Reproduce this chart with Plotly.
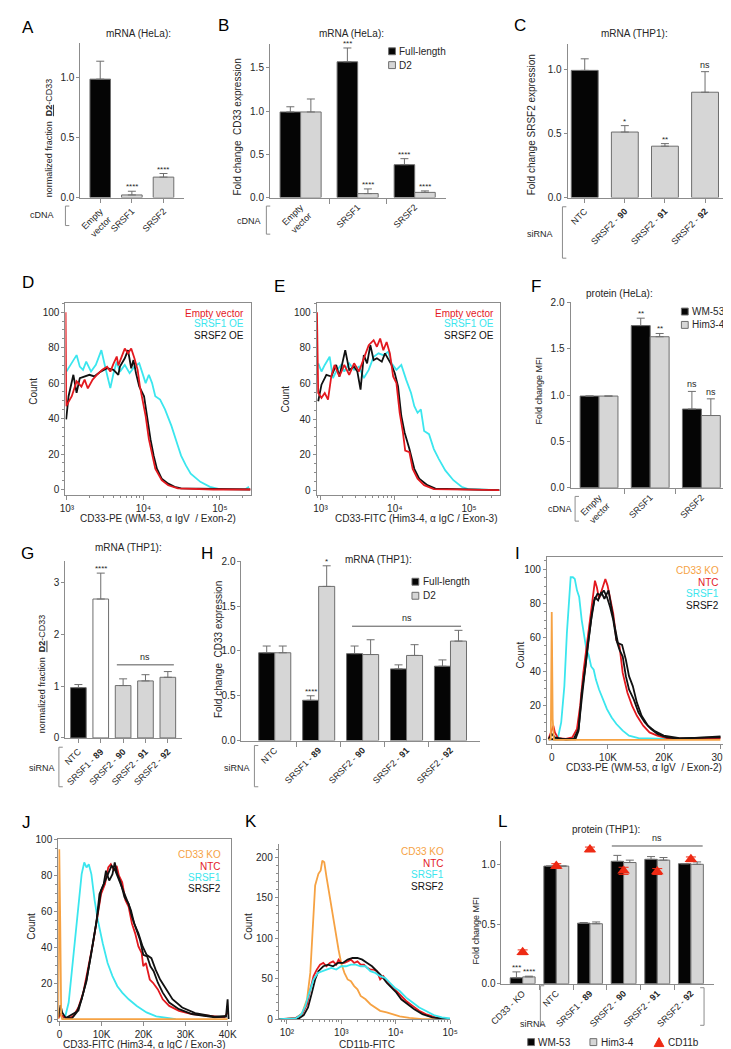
import plotly.graph_objects as go

W, H = 731, 1049
FONT = "Liberation Sans, Arial, Helvetica, sans-serif"
TXT = "#262626"
AX = "#8c8c8c"
EDGE = "#6e6e6e"
ERRC = "#6e6e6e"
BLACKF = "#050505"
GREYF = "#d6d6d6"
WHITEF = "#ffffff"
RED = "#e3191f"
CYAN = "#3be6ee"
ORANGE = "#f6a243"
DARK = "#111111"


def bnum(t):
    return f"<span style='font-weight:bold;font-size:9px'>{t}</span>"


# ======================= DATA =======================
# A  mRNA (HeLa) normalized fraction D2-CD33
a_cats = ["Empty<br>vector", "SRSF1", "SRSF2"]
a_vals = [0.99, 0.022, 0.171]
a_sem = [0.15, 0.031, 0.03]
a_sig = ["", "****", "****"]

# B  mRNA (HeLa) fold change CD33 expression
b_cats = ["Empty<br>vector", "SRSF1", "SRSF2"]
b_full = [0.99, 1.57, 0.38]
b_full_sem = [0.06, 0.16, 0.07]
b_full_sig = ["", "***", "****"]
b_d2 = [0.99, 0.046, 0.06]
b_d2_sem = [0.15, 0.054, 0.017]
b_d2_sig = ["", "****", "****"]

# C  mRNA (THP1) fold change SRSF2 expression
c_cats = ["NTC", "SRSF2 - " + bnum("90"), "SRSF2 - " + bnum("91"), "SRSF2 - " + bnum("92")]
c_vals = [0.99, 0.51, 0.40, 0.82]
c_sem = [0.09, 0.05, 0.02, 0.16]
c_sig = ["", "*", "**", "ns"]

# log-axis tick labels
log_ticks_de = ["10³", "10⁴", "10⁵"]
log_ticks_k = ["10²", "10³", "10⁴", "10⁵"]

# D  CD33-PE histogram (log10 intensity, count)
d_ev_x = [2.982, 2.990, 3.063, 3.126, 3.189, 3.231, 3.273, 3.336, 3.399, 3.462, 3.525, 3.567, 3.609,
          3.651, 3.672, 3.714, 3.756, 3.798, 3.840, 3.882, 3.924, 3.954, 3.987, 4.029, 4.071, 4.113,
          4.155, 4.239, 4.324, 4.450, 4.912, 5.400]
d_ev_y = [100, 47, 52.6, 61, 58, 62, 57, 62, 65, 67.5, 69.3, 66.5, 71, 75, 70, 75, 79.5, 76.8, 79.5,
          74, 67.5, 58.2, 50.7, 41.4, 28.4, 19.1, 11.7, 5.2, 2.4, 0.6, 0, 0]
d_s1_x = [2.992, 3.063, 3.126, 3.168, 3.210, 3.252, 3.315, 3.378, 3.450, 3.504, 3.567, 3.609, 3.651,
          3.693, 3.756, 3.819, 3.882, 3.945, 3.987, 4.029, 4.071, 4.113, 4.155, 4.218, 4.282, 4.366,
          4.450, 4.492, 4.555, 4.618, 4.744, 4.870, 4.996, 5.332, 5.380]
d_s1_y = [66.5, 71.2, 75.8, 69.3, 67.5, 72.1, 66.5, 70.3, 78.6, 68.4, 57.2, 65.6, 72.1, 66.5, 70.3,
          65.6, 69.3, 71.2, 65.6, 60, 64.7, 60, 52.6, 50.7, 45.2, 35.9, 24.7, 19.1, 13.6, 8.9, 4.3,
          1.5, 0.2, 0.2, 1.5]
d_s2_x = [2.990, 3.021, 3.084, 3.126, 3.168, 3.231, 3.294, 3.357, 3.441, 3.525, 3.609, 3.672, 3.693,
          3.756, 3.798, 3.840, 3.870, 3.903, 3.945, 4.008, 4.050, 4.092, 4.134, 4.176, 4.239, 4.324,
          4.408, 4.492, 5.400]
d_s2_y = [39.6, 52.6, 64.7, 54.5, 62.8, 63.8, 64.7, 63.8, 66.5, 68.4, 67.5, 64.7, 69.3, 74, 78.6,
          68.4, 73, 65.6, 58.2, 52.6, 39.6, 28.4, 19.1, 11.7, 6.1, 3.3, 1.5, 0.6, 0]

# E  CD33-FITC histogram (log10 intensity, count)
e_ev_x = [2.952, 2.969, 3.013, 3.057, 3.101, 3.145, 3.189, 3.254, 3.320, 3.386, 3.452, 3.518, 3.583,
          3.649, 3.715, 3.759, 3.803, 3.846, 3.890, 3.934, 3.978, 4.022, 4.066, 4.110, 4.140, 4.197,
          4.241, 4.307, 4.395, 4.526, 5.410]
e_ev_y = [100, 54.6, 51.9, 54.6, 50.9, 63.9, 70.4, 63.9, 70.4, 64.8, 71.3, 66.7, 74.1, 81.5, 84.3,
          80.6, 85.2, 78.7, 83.3, 76.9, 63.9, 60.2, 43.5, 32.4, 22.2, 21.3, 12, 6.5, 2.8, 0.6, 0]
e_s1_x = [2.969, 3.013, 3.057, 3.123, 3.167, 3.211, 3.276, 3.320, 3.386, 3.452, 3.518, 3.583, 3.649,
          3.715, 3.781, 3.846, 3.912, 3.956, 4.022, 4.088, 4.154, 4.219, 4.263, 4.307, 4.351, 4.395,
          4.461, 4.526, 4.592, 4.680, 4.789, 4.899, 4.987, 5.410]
e_s1_y = [71.3, 66.7, 70.4, 75, 63, 66.7, 70.4, 66.7, 71.3, 67.6, 69.4, 63, 67.6, 75, 76.9, 75.9,
          77.8, 71.3, 67.6, 70.4, 62, 54.6, 47.2, 43.5, 45.4, 33.3, 31.5, 23.1, 17.6, 11.1, 5.6, 1.9,
          0.6, 0]
e_s2_x = [2.969, 3.013, 3.079, 3.145, 3.211, 3.254, 3.333, 3.386, 3.452, 3.496, 3.539, 3.583, 3.627,
          3.671, 3.715, 3.759, 3.825, 3.868, 3.956, 4.000, 4.044, 4.088, 4.132, 4.197, 4.263, 4.329,
          4.439, 4.548, 5.410]
e_s2_y = [50, 59.3, 64.8, 63.9, 70.4, 63.9, 78.7, 67.6, 69.4, 66.7, 56.5, 75.9, 71.3, 81.5, 73.1,
          74.1, 72.2, 76.9, 70.4, 65.7, 58.3, 41.7, 32.4, 23.1, 12, 6.5, 2.8, 0.9, 0]

# F  protein (HeLa) fold change MFI
f_cats = ["Empty<br>vector", "SRSF1", "SRSF2"]
f_wm = [0.99, 1.75, 0.85]
f_wm_sem = [0, 0.08, 0.19]
f_wm_sig = ["", "**", "ns"]
f_him = [0.99, 1.63, 0.78]
f_him_sem = [0, 0.035, 0.18]
f_him_sig = ["", "**", "ns"]

# G  mRNA (THP1) normalized fraction D2-CD33
g_cats = ["NTC", "SRSF1 - " + bnum("89"), "SRSF2 - " + bnum("90"), "SRSF2 - " + bnum("91"),
          "SRSF2 - " + bnum("92")]
g_vals = [0.97, 2.68, 1.01, 1.10, 1.17]
g_sem = [0.06, 0.50, 0.13, 0.12, 0.11]
g_sig = ["", "****", "", "", ""]
g_ns_level = 1.41

# H  mRNA (THP1) fold change CD33 expression
h_cats = ["NTC", "SRSF1 - " + bnum("89"), "SRSF2 - " + bnum("90"), "SRSF2 - " + bnum("91"),
          "SRSF2 - " + bnum("92")]
h_full = [0.98, 0.45, 0.97, 0.80, 0.83]
h_full_sem = [0.075, 0.05, 0.085, 0.045, 0.07]
h_full_sig = ["", "****", "", "", ""]
h_d2 = [0.98, 1.72, 0.96, 0.95, 1.11]
h_d2_sem = [0.075, 0.23, 0.165, 0.12, 0.12]
h_d2_sig = ["", "*", "", "", ""]
h_ns_level = 1.276

# I  CD33-PE histogram THP1 (linear intensity, count)
i_ko_x = [-561, -168, 0, 168, 393, 30000]
i_ko_y = [0, 0.6, 74.9, 12.2, 0, 0]
i_ntc_x = [-561, 0, 280, 561, 1122, 2525, 3647, 4488, 5049, 5610, 6171, 6732, 7293, 7686, 8022, 8415,
           8696, 9144, 9537, 9930, 10379, 10940, 11501, 12062, 12623, 13464, 14306, 15147, 16269,
           17391, 18794, 20477, 24965, 30014]
i_ntc_y = [0.6, 6.4, 8.3, 4.4, 1, 0.6, 1.5, 6.4, 19.9, 39.2, 54.6, 70.1, 85.5, 93.2, 89.4, 82.6, 85.5,
           90.3, 94.2, 90.3, 83.6, 73.9, 58.5, 54.6, 39.2, 27.6, 19.9, 14.1, 8.3, 4.4, 2.5, 1, 0.6, 1]
i_s1_x = [561, 1122, 1683, 2244, 2693, 3086, 3366, 3759, 4095, 4488, 4881, 5330, 5778, 6171, 6564,
          7013, 7461, 7854, 8415, 9144, 9818, 10659, 11501, 12623, 13745, 15428, 20477]
i_s1_y = [0, 1.5, 10.2, 31.5, 62.4, 83.6, 95.2, 95.2, 94.2, 87.5, 83.6, 70.1, 60.4, 52.7, 49.8, 43,
          41.1, 35.3, 29.5, 23.7, 18, 13.1, 9.3, 5.4, 2.5, 1, 0.6]
i_s2a_x = [-561, 0, 561, 2525, 3927, 4769, 5330, 5891, 6452, 7013, 7574, 8135, 8696, 9257, 9818,
           10379, 10940, 11501, 12062, 12623, 13184, 13745, 14586, 15428, 16550, 17672, 18794, 20477,
           22721, 30014]
i_s2a_y = [0.6, 3.5, 1.5, 0.2, 0.6, 6.4, 23.7, 41.1, 56.6, 70.1, 81.7, 85.5, 84.6, 87.5, 83.6, 77.8,
           70.1, 58.5, 52.7, 48.8, 37.3, 29.5, 23.7, 16, 10.2, 6.4, 3.5, 1.5, 0.6, 2.1]
i_s2b_x = [-561, 4208, 4769, 5330, 6003, 6564, 7125, 7686, 8247, 8808, 9369, 10098, 10659, 11220,
           11781, 12510, 13184, 13745, 14418, 15147, 15989, 17111, 18233, 19916, 22721, 30014]
i_s2b_y = [0.4, 0.4, 5.4, 27.6, 43, 58.5, 73.9, 83.6, 81.7, 86.5, 82.6, 87.5, 75.9, 66.2, 56.6, 55.6,
           46.9, 37.3, 31.5, 21.8, 14.1, 8.3, 5.4, 2.5, 1, 1.5]

# J  CD33-FITC histogram THP1 (linear intensity, count)
j_ko_x = [-309, -77, 154, 386, 618, 39990]
j_ko_y = [0, 94.5, 53.2, 1.8, 0, 0]
j_ntc_x = [-309, 232, 1004, 2162, 3320, 4478, 5636, 6794, 7952, 9110, 9882, 10808, 11580, 12198,
           12970, 13587, 14128, 14900, 15672, 16444, 17216, 17988, 18760, 19532, 19918, 20535, 21462,
           22234, 23392, 24550, 26094, 28410, 31498, 36902, 39218, 39990]
j_ntc_y = [0.4, 2.8, 0.9, 0.4, 1.8, 6.4, 14.7, 27.5, 42.2, 58.7, 69.7, 75.2, 84.4, 86.2, 82.6, 85.3,
           79.8, 76.1, 66.1, 62.4, 53.2, 47.7, 40.4, 36.7, 29.4, 31.2, 22, 20.2, 16.5, 11, 7.3, 4.6,
           2.8, 1.5, 0.9, 3.7]
j_s1_x = [618, 1390, 2162, 2934, 3706, 4478, 5250, 5867, 6408, 6948, 7566, 8338, 9110, 10268, 11426,
          12584, 13742, 14900, 16444, 18374, 20690, 23006, 26094, 27638]
j_s1_y = [0, 1.8, 9.2, 27.5, 47.7, 66.1, 80.7, 87.2, 84.4, 86.2, 80.7, 66.1, 55, 42.2, 31.2, 23.9,
          18.3, 14.7, 11, 7.3, 3.7, 1.5, 0.4, 0]
j_s2a_x = [-309, 232, 618, 1390, 2934, 4092, 5250, 6408, 7566, 8724, 9496, 10499, 11040, 11812,
           12584, 13124, 13742, 14514, 15440, 16444, 17216, 18219, 19146, 19918, 20844, 21616, 22388,
           23392, 24550, 26094, 28410, 31498, 36902, 39604, 39990, 40221]
j_s2a_y = [0.9, 7.7, 3.7, 0.9, 0.4, 3.7, 11, 22, 36.7, 53.2, 69.7, 75.2, 82.6, 77.1, 80.7, 87.2,
           80.7, 76.1, 67.9, 64.2, 56.9, 49.5, 44, 35.8, 34.9, 29.4, 26.6, 20.2, 14.7, 9.2, 5.5, 2.8,
           0.9, 1.3, 11, 0]
j_s2b_x = [1390, 4478, 6408, 7720, 8955, 9882, 10808, 11580, 12352, 13124, 13896, 15131, 16058, 16984,
           17756, 18760, 19763, 20690, 21848, 22851, 23932, 25322, 26866, 29182, 32270, 36902, 39835]
j_s2b_y = [0.4, 4.6, 21.1, 38.5, 56.9, 71.6, 77.1, 80.7, 85.3, 83.5, 78.9, 71.6, 66.1, 60.6, 53.2,
           47.7, 40.4, 35.8, 33.9, 27.5, 22, 16.5, 11, 6.4, 3.3, 1.3, 1.8]

# K  CD11b-FITC histogram (log10 intensity, count)
k_ko_x = [1.863, 2.161, 2.281, 2.370, 2.430, 2.478, 2.519, 2.579, 2.621, 2.651, 2.687, 2.728, 2.788,
          2.848, 2.907, 2.949, 2.997, 3.057, 3.116, 3.176, 3.236, 3.296, 3.355, 3.445, 3.534, 3.624,
          3.713, 3.833, 3.952, 4.072, 4.251, 4.490, 4.997]
k_ko_y = [0, 0.8, 7.3, 24.5, 57.1, 118.4, 165.3, 179.6, 183.7, 195.9, 193.9, 175.5, 151, 122.4, 98,
          85.7, 69.4, 57.1, 49, 46.9, 40.8, 36.7, 28.6, 24.5, 18.4, 14.3, 10.2, 8.2, 6.1, 3.3, 1.6, 0, 0]
k_ntc_x = [1.863, 2.161, 2.281, 2.370, 2.430, 2.490, 2.549, 2.609, 2.669, 2.728, 2.788, 2.848, 2.907,
           2.949, 2.997, 3.057, 3.116, 3.176, 3.236, 3.296, 3.355, 3.415, 3.475, 3.534, 3.594, 3.654,
           3.713, 3.773, 3.833, 3.893, 3.982, 4.072, 4.191, 4.310, 4.430, 4.549, 4.728, 4.967]
k_ntc_y = [0, 1.2, 6.1, 18.4, 36.7, 53.1, 61.2, 67.3, 69.4, 65.3, 69.4, 71.4, 67.3, 73.5, 69.4, 69.4,
           71.4, 73.5, 69.4, 71.4, 67.3, 67.3, 63.3, 61.2, 61.2, 59.2, 49, 53.1, 46.9, 42.9, 36.7,
           30.6, 22.4, 16.3, 10.2, 6.1, 2, 0]
k_s1_x = [1.863, 2.161, 2.269, 2.340, 2.412, 2.490, 2.567, 2.639, 2.728, 2.818, 2.907, 2.997, 3.087,
          3.176, 3.266, 3.355, 3.445, 3.534, 3.624, 3.713, 3.803, 3.893, 3.982, 4.072, 4.191, 4.310,
          4.430, 4.549, 4.699, 4.848, 4.997]
k_s1_y = [0, 0.8, 6.1, 16.3, 32.7, 49, 57.1, 59.2, 61.2, 63.3, 61.2, 65.3, 65.3, 67.3, 67.3, 65.3,
          65.3, 59.2, 57.1, 53.1, 51, 44.9, 38.8, 34.7, 26.5, 20.4, 14.3, 10.2, 4.9, 2, 0.8]
k_s2_x = [1.863, 2.221, 2.310, 2.388, 2.460, 2.519, 2.579, 2.669, 2.758, 2.848, 2.937, 3.027, 3.116,
          3.206, 3.296, 3.385, 3.475, 3.564, 3.654, 3.743, 3.833, 3.922, 4.012, 4.101, 4.221, 4.340,
          4.490, 4.669, 4.967]
k_s2_y = [0, 0.8, 4.9, 14.3, 32.7, 49, 59.2, 65.3, 67.3, 65.3, 69.4, 69.4, 73.5, 75.5, 75.5, 73.5,
          69.4, 65.3, 59.2, 53.1, 44.9, 38.8, 32.7, 24.5, 18.4, 12.2, 6.1, 2, 0]

# L  protein (THP1) fold change MFI
l_cats = ["CD33 - KO", "NTC", "SRSF1 - " + bnum("89"), "SRSF2 - " + bnum("90"),
          "SRSF2 - " + bnum("91"), "SRSF2 - " + bnum("92")]
l_wm = [0.05, 0.99, 0.51, 1.03, 1.047, 1.01]
l_wm_sem = [0.05, 0.0, 0.005, 0.05, 0.023, 0.0]
l_wm_sig = ["***", "", "", "", "", ""]
l_him = [0.058, 0.99, 0.505, 1.02, 1.04, 1.005]
l_him_sem = [0.006, 0.0, 0.015, 0.02, 0.022, 0.02]
l_him_sig = ["****", "", "", "", "", ""]
l_cd11b = [0.265, 0.99, 1.13, 0.95, 0.944, 1.047]
l_cd11b_sem = [0.02, 0.02, 0.02, 0.03, 0.025, 0.02]
l_ns_level = 1.159

# ======================= FIGURE =======================
fig = go.Figure()
anns = []
shapes = []


def xy(n):
    return ("x" if n == 1 else f"x{n}", "y" if n == 1 else f"y{n}")


def pann(text, x, y, size=10, color=TXT, xanchor="center", yanchor="middle", angle=0):
    anns.append(dict(text=text, x=x / W, y=1 - y / H, xref="paper", yref="paper", showarrow=False,
                     font=dict(size=size, color=color, family=FONT), xanchor=xanchor,
                     yanchor=yanchor, textangle=angle))


def pline(x0, y0, x1, y1, color=AX, width=1):
    shapes.append(dict(type="line", xref="paper", yref="paper", x0=x0 / W, y0=1 - y0 / H,
                       x1=x1 / W, y1=1 - y1 / H, line=dict(color=color, width=width)))


def prect(x0, y0, x1, y1, fill):
    shapes.append(dict(type="rect", xref="paper", yref="paper", x0=x0 / W, y0=1 - y1 / H,
                       x1=x1 / W, y1=1 - y0 / H, fillcolor=fill, line=dict(color=EDGE, width=1)))


def bracket(x, y0, y1, right=False):
    d = -4 if right else 4
    pline(x, y0, x, y1)
    pline(x, y0, x + d, y0)
    pline(x, y1, x + d, y1)


def add_bars(n, vals, sem, fill, width, offset):
    xa, ya = xy(n)
    fig.add_trace(go.Bar(
        x=list(range(len(vals))), y=vals, width=width, offset=offset,
        marker=dict(color=fill, line=dict(color=EDGE, width=1)),
        error_y=dict(type="data", symmetric=False, array=sem, arrayminus=[0] * len(vals),
                     color=ERRC, thickness=1, width=4),
        xaxis=xa, yaxis=ya, showlegend=False, hoverinfo="skip"))


def add_sig(n, vals, sem, sig, dx, size=8):
    xa, ya = xy(n)
    for i, (v, s, t) in enumerate(zip(vals, sem, sig)):
        if t:
            fs = 9 if t == "ns" else size
            anns.append(dict(text=t, x=i + dx, y=v + s, xref=xa, yref=ya, showarrow=False,
                             yanchor="bottom", yshift=0 if t == "ns" else -2,
                             font=dict(size=fs, color=TXT, family=FONT)))


def add_ns(n, x0, x1, level):
    xa, ya = xy(n)
    shapes.append(dict(type="line", xref=xa, yref=ya, x0=x0, x1=x1, y0=level, y1=level,
                       line=dict(color="#555555", width=1)))
    anns.append(dict(text="ns", x=(x0 + x1) / 2, y=level, xref=xa, yref=ya, showarrow=False,
                     yanchor="bottom", yshift=1, font=dict(size=9, color=TXT, family=FONT)))


def add_line(n, x, y, color, width=1.8):
    xa, ya = xy(n)
    fig.add_trace(go.Scatter(x=x, y=y, mode="lines", line=dict(color=color, width=width),
                             xaxis=xa, yaxis=ya, showlegend=False, hoverinfo="skip"))


layout = dict(width=W, height=H, margin=dict(l=0, r=0, t=0, b=0), autosize=False,
              paper_bgcolor="white", plot_bgcolor="white", barmode="overlay",
              font=dict(family=FONT, color=TXT, size=10), showlegend=False)

BASE = dict(showline=True, linecolor=AX, linewidth=1, ticks="outside", tickcolor=AX, ticklen=4,
            tickwidth=1, showgrid=False, zeroline=False, fixedrange=True,
            tickfont=dict(size=10, color=TXT, family=FONT))


def set_axes(n, xpx, ypx, xr, yr, xkw, ykw):
    xname = "xaxis" if n == 1 else f"xaxis{n}"
    yname = "yaxis" if n == 1 else f"yaxis{n}"
    xa, ya = xy(n)
    xd = dict(BASE)
    xd.update(domain=[xpx[0] / W, xpx[1] / W], range=xr, anchor=ya)
    xd.update(xkw)
    yd = dict(BASE)
    yd.update(domain=[1 - ypx[1] / H, 1 - ypx[0] / H], range=yr, anchor=xa, ticklen=3)
    yd.update(ykw)
    layout[xname] = xd
    layout[yname] = yd


def cat_x(cats, group=False):
    d = dict(tickmode="array", tickvals=list(range(len(cats))), ticktext=cats, tickangle=-45,
             tickfont=dict(size=9, color=TXT, family=FONT))
    if group:
        d.update(ticklen=0, minor=dict(tickmode="array",
                                       tickvals=[i + 0.5 for i in range(len(cats) - 1)],
                                       ticks="outside", ticklen=5, tickcolor=AX, tickwidth=1))
    return d


def num_y(vals, fmt=".1f"):
    return dict(tickmode="array", tickvals=vals, tickformat=fmt)


def log_minor(lo, hi):
    return [k * 10 ** e for e in range(lo, hi) for k in range(2, 10)]


HIST_Y = dict(mirror=True, tickmode="array", tickvals=[0, 20, 40, 60, 80, 100],
              minor=dict(dtick=5, ticks="outside", ticklen=2, tickcolor=AX))

# ---------- A ----------
set_axes(1, (62, 169), (29, 185.7), [-0.63, 2.66], [0, 1.295],
         cat_x(a_cats), num_y([0, 0.5, 1.0]))
add_bars(1, a_vals, a_sem, [BLACKF, GREYF, GREYF], 0.65, -0.325)
add_sig(1, a_vals, a_sem, a_sig, 0)

# ---------- B ----------
bw = 0.36
set_axes(2, (257, 438), (30, 185.7), [-0.537, 2.549], [0, 1.78],
         cat_x(b_cats, True), num_y([0, 0.5, 1.0, 1.5]))
add_bars(2, b_full, b_full_sem, BLACKF, bw, -bw)
add_bars(2, b_d2, b_d2_sem, GREYF, bw, 0)
add_sig(2, b_full, b_full_sem, b_full_sig, -bw / 2)
add_sig(2, b_d2, b_d2_sem, b_d2_sig, bw / 2)

# ---------- C ----------
set_axes(3, (563, 727), (30, 185.7), [-0.427, 3.55], [0, 1.198],
         cat_x(c_cats), num_y([0, 0.5, 1.0]))
add_bars(3, c_vals, c_sem, [BLACKF, GREYF, GREYF, GREYF], 0.67, -0.335)
add_sig(3, c_vals, c_sem, c_sig, 0)

# ---------- D ----------
set_axes(4, (46.7, 237), (292.7, 486.5), [2.98, 5.4], [-3.07, 105],
         dict(type="log", mirror=True, tickmode="array", tickvals=[1e3, 1e4, 1e5],
              ticktext=log_ticks_de,
              minor=dict(tickmode="array", tickvals=log_minor(2, 6), ticks="outside", ticklen=2,
                         tickcolor=AX)), HIST_Y)
add_line(4, [10 ** v for v in d_s1_x], d_s1_y, CYAN)
add_line(4, [10 ** v for v in d_s2_x], d_s2_y, DARK)
add_line(4, [10 ** v for v in d_ev_x], d_ev_y, RED)

# ---------- E ----------
set_axes(5, (305, 493), (292.7, 486.5), [2.948, 5.41], [-2.67, 105],
         dict(type="log", mirror=True, tickmode="array", tickvals=[1e3, 1e4, 1e5],
              ticktext=log_ticks_de,
              minor=dict(tickmode="array", tickvals=log_minor(2, 6), ticks="outside", ticklen=2,
                         tickcolor=AX)), HIST_Y)
add_line(5, [10 ** v for v in e_s1_x], e_s1_y, CYAN)
add_line(5, [10 ** v for v in e_s2_x], e_s2_y, DARK)
add_line(5, [10 ** v for v in e_ev_x], e_ev_y, RED)

# ---------- F ----------
set_axes(6, (566, 730), (291.2, 479.3), [-0.557, 2.56], [0, 2.006],
         cat_x(f_cats, True), num_y([0, 0.5, 1.0, 1.5, 2.0]))
fw = 0.37
add_bars(6, f_wm, f_wm_sem, BLACKF, fw, -fw)
add_bars(6, f_him, f_him_sem, GREYF, fw, 0)
add_sig(6, f_wm, f_wm_sem, f_wm_sig, -fw / 2)
add_sig(6, f_him, f_him_sem, f_him_sig, fw / 2)

# ---------- G ----------
set_axes(7, (46.7, 166.7), (553, 732.3), [-0.58, 4.64], [0, 3.42],
         cat_x(g_cats), num_y([0, 1, 2, 3], "d"))
add_bars(7, g_vals, g_sem, [BLACKF, WHITEF, GREYF, GREYF, GREYF], 0.7, -0.35)
add_sig(7, g_vals, g_sem, g_sig, 0)
add_ns(7, 1.72, 4.27, g_ns_level)

# ---------- H ----------
hw = 0.365
set_axes(8, (227.7, 473.3), (553.2, 735), [-0.757, 4.68], [0, 2.005],
         cat_x(h_cats, True), num_y([0, 0.5, 1.0, 1.5, 2.0]))
add_bars(8, h_full, h_full_sem, BLACKF, hw, -hw)
add_bars(8, h_d2, h_d2_sem, GREYF, hw, 0)
add_sig(8, h_full, h_full_sem, h_full_sig, -hw / 2)
add_sig(8, h_d2, h_d2_sem, h_d2_sig, hw / 2)
add_ns(8, 1.76, 4.24, h_ns_level)

# ---------- I ----------
set_axes(9, (541.7, 730), (549, 738.3), [-865, 31713], [-2.3, 107.2],
         dict(mirror=True, tickmode="array", tickvals=[0, 10000, 20000, 30000],
              ticktext=["0", "10K", "20K", "30K"]), HIST_Y)
add_line(9, i_s1_x, i_s1_y, CYAN)
add_line(9, i_ntc_x, i_ntc_y, RED)
add_line(9, i_s2a_x, i_s2a_y, DARK)
add_line(9, i_s2b_x, i_s2b_y, DARK)
add_line(9, i_ko_x, i_ko_y, ORANGE)

# ---------- J ----------
set_axes(10, (39.3, 216.7), (835, 1018.3), [-324, 40741], [-0.9, 100],
         dict(mirror=True, tickmode="array", tickvals=[0, 10000, 20000, 30000, 40000],
              ticktext=["0", "10K", "20K", "30K", "40K"]), HIST_Y)
add_line(10, j_s1_x, j_s1_y, CYAN)
add_line(10, j_ntc_x, j_ntc_y, RED)
add_line(10, j_s2a_x, j_s2a_y, DARK)
add_line(10, j_s2b_x, j_s2b_y, DARK)
add_line(10, j_ko_x, j_ko_y, ORANGE)

# ---------- K ----------
set_axes(11, (266, 442.3), (840, 1016.7), [1.85, 5.0], [0, 216],
         dict(type="log", tickmode="array", tickvals=[1e2, 1e3, 1e4, 1e5],
              ticktext=log_ticks_k,
              minor=dict(tickmode="array", tickvals=log_minor(1, 5), ticks="outside", ticklen=2,
                         tickcolor=AX)),
         dict(tickmode="array", tickvals=[0, 50, 100, 150, 200],
              minor=dict(dtick=10, ticks="outside", ticklen=2, tickcolor=AX)))
add_line(11, [10 ** v for v in k_ko_x], k_ko_y, ORANGE)
add_line(11, [10 ** v for v in k_ntc_x], k_ntc_y, RED)
add_line(11, [10 ** v for v in k_s2_x], k_s2_y, DARK)
add_line(11, [10 ** v for v in k_s1_x], k_s1_y, CYAN)

# ---------- L ----------
lw = 0.37
set_axes(12, (495, 713.3), (836.7, 981), [-0.63, 5.68], [0, 1.2],
         cat_x(l_cats, True), num_y([0, 0.5, 1.0]))
add_bars(12, l_wm, l_wm_sem, BLACKF, lw, -lw)
add_bars(12, l_him, l_him_sem, GREYF, lw, 0)
add_sig(12, l_wm, l_wm_sem, l_wm_sig, -lw / 2)
add_sig(12, l_him, l_him_sem, l_him_sig, lw / 2)
fig.add_trace(go.Scatter(
    x=list(range(len(l_cd11b))), y=l_cd11b, mode="markers",
    marker=dict(symbol="triangle-up", size=11, color="#ee2a14"),
    error_y=dict(type="data", array=l_cd11b_sem, color="#ee2a14", thickness=1, width=5),
    xaxis="x12", yaxis="y12", showlegend=False, hoverinfo="skip"))
add_ns(12, 2.65, 5.35, l_ns_level)

# ======================= TEXT / DECORATION =======================
for letter, x, y in [("A", 8, 14), ("B", 209, 12), ("C", 514, 12), ("D", 8, 272), ("E", 267, 276),
                     ("F", 531, 276), ("G", 8, 546), ("H", 192, 546), ("I", 511, 546),
                     ("J", 7, 818), ("K", 237, 817), ("L", 496, 817)]:
    pann(letter, x, y, size=17, color="#000000")

pann("mRNA (HeLa):", 122, 20, 10)
pann("mRNA (HeLa):", 341, 20, 10)
pann("mRNA (THP1):", 632, 20, 10)
pann("protein (HeLa):", 616, 283, 10)
pann("mRNA (THP1):", 112, 540, 10)
pann("mRNA (THP1):", 369, 552, 10)
pann("protein (THP1):", 602, 825, 10)

D2 = "<span style='font-weight:bold;text-decoration:underline;font-size:9px'>D2</span>"
# y-axis titles
pann("normalized fraction  " + D2 + "-CD33", 29.5, 125, 9, angle=-90)
pann("Fold change  CD33 expression", 224, 114, 10, angle=-90)
pann("Fold change SRSF2 expression", 526, 112, 10, angle=-90)
pann("Count", 13.5, 382, 10, angle=-90)
pann("Count", 273.5, 390, 10, angle=-90)
pann("Fold change MFI", 533.5, 381, 9, angle=-90)
pann("normalized fraction  " + D2 + "-CD33", 23.5, 667, 9, angle=-90)
pann("Fold change  CD33 expression", 204, 643, 10, angle=-90)
pann("Count", 515, 648, 10, angle=-90)
pann("Count", 11.7, 923, 10, angle=-90)
pann("Count", 235, 923, 10, angle=-90)
pann("Fold change MFI", 469, 927, 9, angle=-90)

# x-axis titles of histograms
pann("CD33-PE (WM-53, α IgV  / Exon-2)", 141.7, 510, 10)
pann("CD33-FITC (Him3-4, α IgC / Exon-3)", 407, 510, 10)
pann("CD33-PE (WM-53, α IgV  / Exon-2)", 642, 762, 10)
pann("CD33-FITC (Him3-4, α IgC / Exon-3)", 127.5, 1042, 10)
pann("CD11b-FITC", 356.5, 1042, 10)

# histogram colour keys
for xr, ys in [(232, (302.7, 313.5, 325)), (489, (302.7, 313.5, 325))]:
    for (t, c), yy in zip([("Empty vector", RED), ("SRSF1 OE", CYAN), ("SRSF2 OE", DARK)], ys):
        pann(t, xr, yy, 10, c, xanchor="right")
for xr, ys in [(721, (563, 575, 586.7, 598.3)), (208.3, (850, 862.7, 873.3, 885)),
               (438.3, (846.7, 859, 870.7, 882.7))]:
    for (t, c), yy in zip([("CD33 KO", ORANGE), ("NTC", RED), ("SRSF1", CYAN), ("SRSF2", DARK)], ys):
        pann(t, xr, yy, 10, c, xanchor="right")


# bar chart keys
def key(x, y, fill, label):
    prect(x, y - 3.5, x + 7, y + 3.5, fill)
    pann(label, x + 9, y, 10, TXT, xanchor="left")


key(379, 37.7, BLACKF, "Full-length")
key(379, 51.7, GREYF, "D2")
key(680, 301, BLACKF, "WM-53")
key(680, 314.5, GREYF, "Him3-4")
key(403, 574.3, BLACKF, "Full-length")
key(403, 588.5, GREYF, "D2")
key(522, 1040, BLACKF, "WM-53")
key(586, 1040, GREYF, "Him3-4")
shapes.append(dict(type="path", xref="paper", yref="paper",
                   path=f"M {652/W} {1-1044.5/H} L {662/W} {1-1044.5/H} L {657/W} {1-1035.5/H} Z",
                   fillcolor="#ee2a14", line=dict(color="#ee2a14", width=1)))
pann("CD11b", 664, 1040, 10, TXT, xanchor="left")

# cDNA / siRNA brackets
bracket(46.7, 194.3, 214)
pann("cDNA", 23, 203.5, 9)
bracket(253.3, 194.3, 222.7)
pann("cDNA", 235, 209, 9)
bracket(557.7, 195, 247)
pann("siRNA", 535, 222.7, 9)
bracket(570.7, 488, 513)
pann("cDNA", 555, 500.7, 9)
bracket(40, 741.7, 781.7)
pann("siRNA", 22.5, 762.7, 9)
bracket(241, 740, 781.7)
pann("siRNA", 222.7, 762.7, 9)
bracket(535, 983, 1023)
bracket(703.3, 985, 1023, right=True)
pann("siRNA", 527, 1021.7, 9)

layout["annotations"] = anns
layout["shapes"] = shapes
fig.update_layout(**layout)
fig.write_html("out.html")
